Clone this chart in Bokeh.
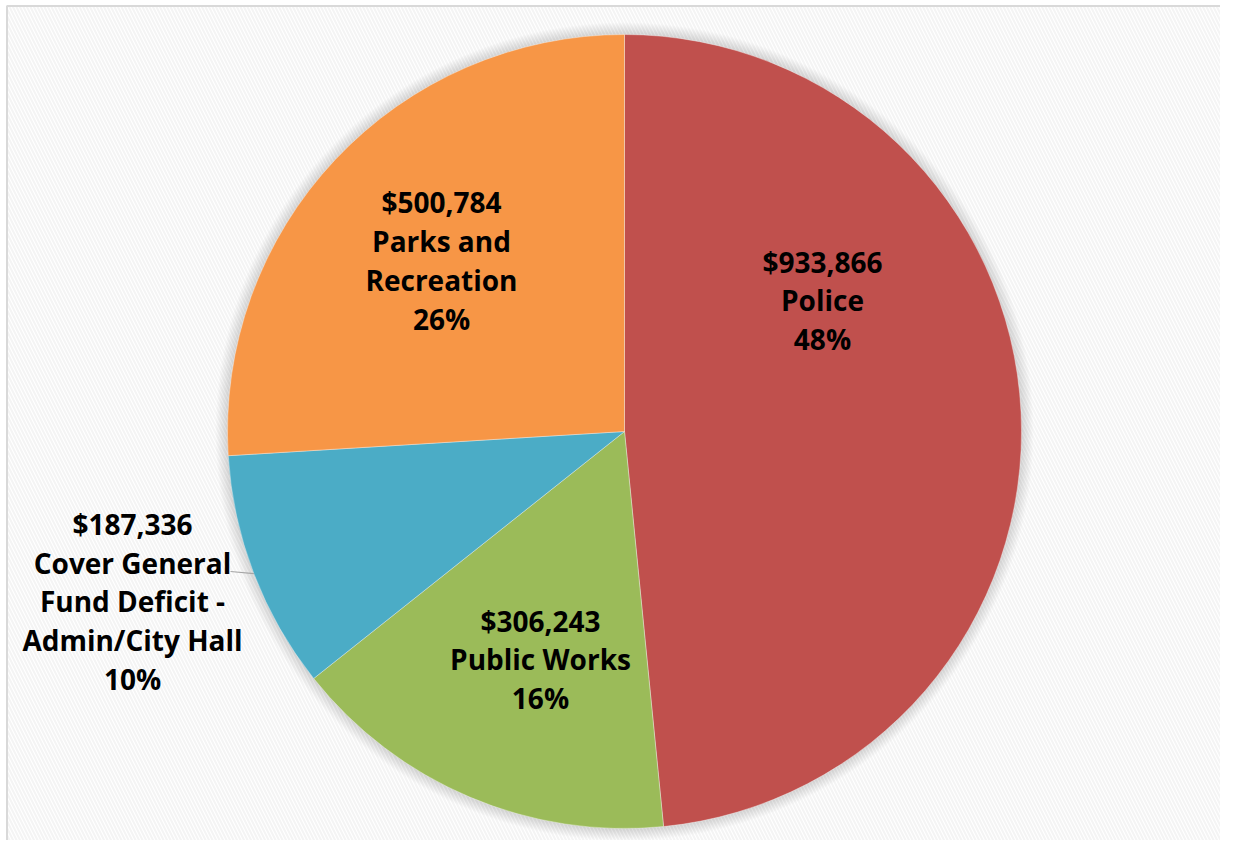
import numpy as np
from bokeh.plotting import figure
from bokeh.models import Range1d
from bokeh.core.properties import value
from bokeh.embed import file_html
from bokeh.resources import INLINE

# ---- data ----
categories = ["Police", "Public Works",
              "Cover General\nFund Deficit -\nAdmin/City Hall",
              "Parks and\nRecreation"]
amounts = [933866, 306243, 187336, 500784]
colors = ["#C0504D", "#9BBB59", "#4BACC6", "#F79646"]

W, H = 1220, 840
cx, cy, R = 624, H - 431, 397

# label anchor positions (plot units = pixels)
label_x = [822, 540, 132, 441]
label_y = [H - 300, H - 659, H - 601, H - 260]

p = figure(width=W, height=H, x_range=Range1d(0, W), y_range=Range1d(0, H),
           output_backend="svg", toolbar_location=None, min_border=0)
p.axis.visible = False
p.grid.visible = False
p.outline_line_color = None
p.background_fill_color = "white"
p.border_fill_color = "white"

# hatched background inside chart border
p.quad(left=[6], right=[W], bottom=[0], top=[H - 5], fill_color="white",
       line_color=None, hatch_pattern="\\", hatch_color="#f4f4f4",
       hatch_scale=7, hatch_weight=2)
# chart border (left/top)
p.segment(x0=[6.5, 6], y0=[0, H - 5.5], x1=[6.5, W], y1=[H - 5.5, H - 5.5],
          line_color="#d9d9d9", line_width=2)

# soft shadow
for k in range(12, 0, -1):
    p.circle(x=[cx], y=[cy], radius=R + k, fill_color="black",
             fill_alpha=0.013, line_color=None)

total = float(sum(amounts))
fracs = np.array(amounts) / total
cum = np.concatenate([[0], np.cumsum(fracs)])
start = np.pi / 2 - cum[:-1] * 2 * np.pi
end = np.pi / 2 - cum[1:] * 2 * np.pi

p.wedge(x=cx, y=cy, radius=R, start_angle=start, end_angle=end,
        direction="clock", fill_color=colors, line_color="white",
        line_alpha=0.35, line_width=1)

# leader line for the outside label (Cover General Fund Deficit)
mid = (start[2] + end[2]) / 2
ex, ey = cx + R * np.cos(mid), cy + R * np.sin(mid)
p.line(x=[230, ex], y=[H - 571, ey], line_color="#a6a6a6", line_width=1.2)

labels = [f"${a:,}\n{c}\n{round(f * 100)}%" for a, c, f in zip(amounts, categories, fracs)]
p.text(x=label_x, y=label_y, text=labels, text_font=value("Open Sans"),
       text_font_style="bold", text_font_size="28px", text_color="black",
       text_align="center", text_baseline="middle", text_line_height=1.02)

open("out.html", "w").write(file_html(p, INLINE))
